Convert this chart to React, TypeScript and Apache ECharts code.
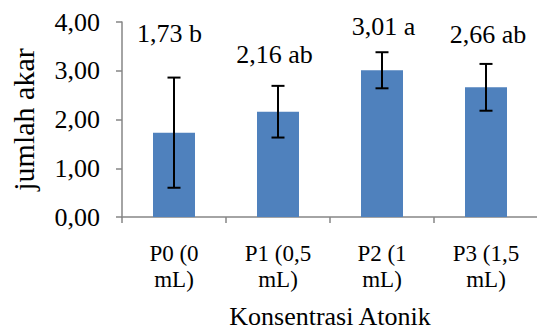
import React, { useEffect, useRef } from "react";
import * as echarts from "echarts";

const categories = ["P0 (0\nmL)", "P1 (0,5\nmL)", "P2 (1\nmL)", "P3 (1,5\nmL)"];
const means = [1.73, 2.16, 3.01, 2.66];
const errors = [1.13, 0.53, 0.37, 0.48];
const notations = ["b", "ab", "a", "ab"];
const yTicks = [0, 1, 2, 3, 4];

// label placement (style config, pixel offsets relative to bar top)
const labelOffsets: [number, number][] = [
  [-4.5, -99],
  [-3.5, -57],
  [1.5, -44],
  [2, -53],
];

const FONT = "Liberation Serif";
const fmt = (v: number) => v.toFixed(2).replace(".", ",");

export default function App() {
  const ref = useRef<HTMLDivElement>(null);
  useEffect(() => {
    if (!ref.current) return;
    const chart = echarts.init(ref.current, null, { renderer: "svg" });
    const errData = means.map((m, i) => [i, m - errors[i], m + errors[i]]);
    chart.setOption({
      animation: false,
      backgroundColor: "#ffffff",
      textStyle: { fontFamily: FONT },
      grid: {
        left: 122,
        top: 22,
        width: 416,
        height: 195,
        containLabel: false,
        outerBoundsMode: "none",
      },
      xAxis: {
        type: "category",
        data: categories,
        name: "Konsentrasi Atonik",
        nameLocation: "middle",
        nameGap: 86,
        nameTextStyle: { fontFamily: FONT, fontSize: 26, color: "#000" },
        axisLine: { show: true, lineStyle: { color: "#868686", width: 1.5 } },
        axisTick: { show: true, alignWithLabel: false, length: 6, lineStyle: { color: "#868686", width: 1.5 } },
        axisLabel: {
          fontFamily: FONT,
          fontSize: 23,
          color: "#000",
          lineHeight: 26,
          margin: 23,
          interval: 0,
        },
      },
      yAxis: {
        type: "value",
        min: 0,
        max: 4,
        interval: 1,
        name: "jumlah akar",
        nameLocation: "middle",
        nameGap: 84,
        nameTextStyle: { fontFamily: FONT, fontSize: 30, color: "#000" },
        splitLine: { show: false },
        axisLine: { show: true, lineStyle: { color: "#868686", width: 1.5 } },
        axisTick: { show: true, length: 6, lineStyle: { color: "#868686", width: 1.5 } },
        axisLabel: {
          fontFamily: FONT,
          fontSize: 26,
          color: "#000",
          margin: 22,
          formatter: (v: number) => (yTicks.includes(v) ? fmt(v) : ""),
        },
      },
      series: [
        {
          type: "bar",
          barWidth: 42,
          itemStyle: { color: "#4F81BD" },
          data: means.map((m, i) => ({
            value: m,
            label: { offset: labelOffsets[i] },
          })),
          label: {
            show: true,
            position: "top",
            distance: 0,
            verticalAlign: "middle",
            fontFamily: FONT,
            fontSize: 26,
            color: "#000",
            formatter: (p: any) => fmt(p.value) + " " + notations[p.dataIndex],
          },
          z: 2,
        },
        {
          type: "custom",
          data: errData,
          z: 3,
          renderItem: (params: any, api: any) => {
            const x = api.value(0);
            const lo = api.coord([x, api.value(1)]);
            const hi = api.coord([x, api.value(2)]);
            const cap = 6.5;
            const style = { stroke: "#000", lineWidth: 2 };
            return {
              type: "group",
              children: [
                { type: "line", shape: { x1: lo[0], y1: lo[1], x2: hi[0], y2: hi[1] }, style },
                { type: "line", shape: { x1: lo[0] - cap, y1: lo[1], x2: lo[0] + cap, y2: lo[1] }, style },
                { type: "line", shape: { x1: hi[0] - cap, y1: hi[1], x2: hi[0] + cap, y2: hi[1] }, style },
              ],
            };
          },
        },
      ],
    });
    return () => chart.dispose();
  }, []);
  return <div ref={ref} style={{ width: 537, height: 331, position: "absolute", left: 0, top: 0 }} />;
}
